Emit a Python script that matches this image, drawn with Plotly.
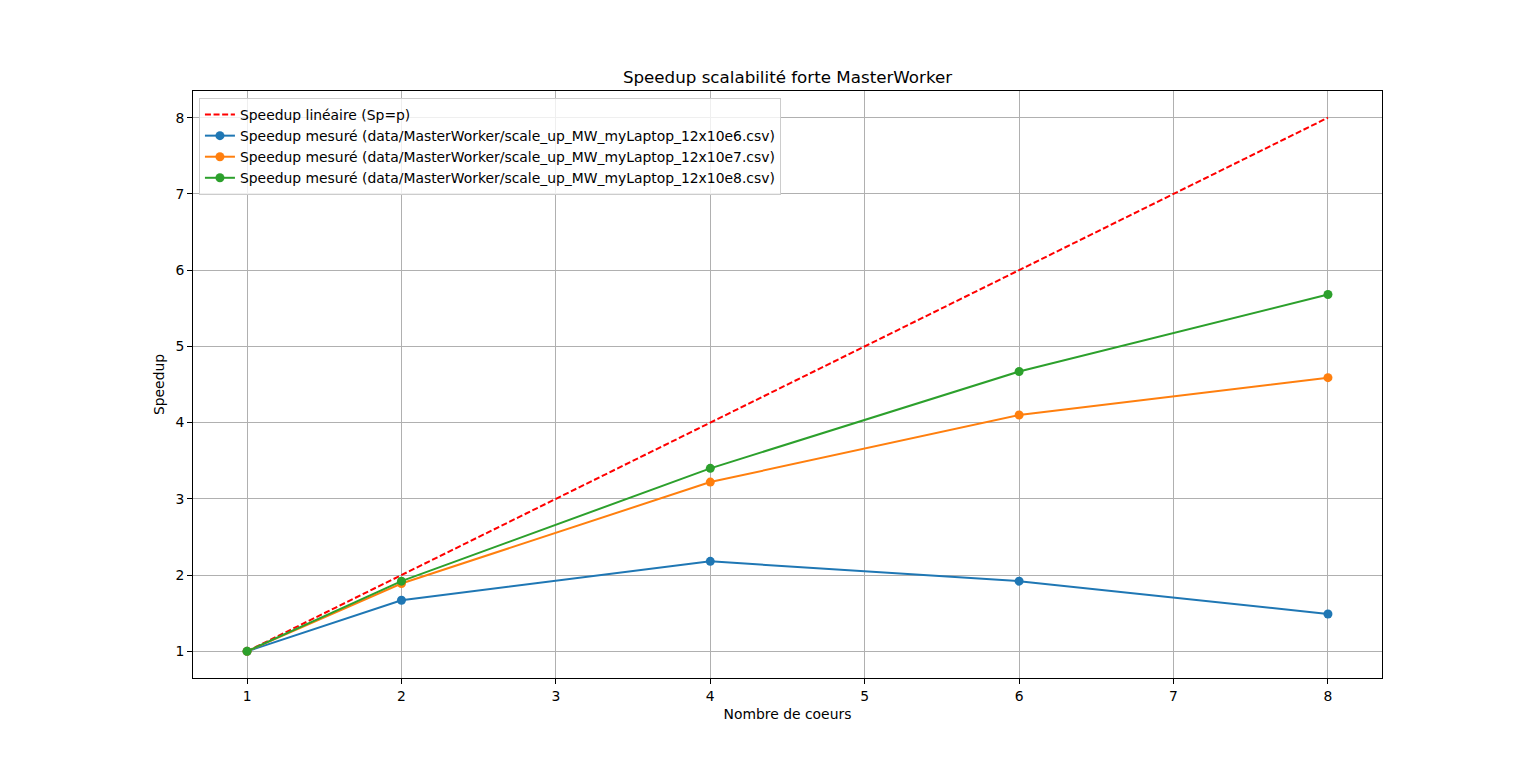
import plotly.graph_objects as go

# data
cores = [1, 2, 4, 6, 8]
lineaire = [1, 2, 4, 6, 8]
speedup_e6 = [1.0, 1.67, 2.18, 1.92, 1.49]
speedup_e7 = [1.0, 1.89, 3.22, 4.10, 4.59]
speedup_e8 = [1.0, 1.92, 3.40, 4.67, 5.68]

files = ['data/MasterWorker/scale_up_MW_myLaptop_12x10e6.csv',
         'data/MasterWorker/scale_up_MW_myLaptop_12x10e7.csv',
         'data/MasterWorker/scale_up_MW_myLaptop_12x10e8.csv']
colors = ['#1f77b4', '#ff7f0e', '#2ca02c']

fig = go.Figure()
fig.add_trace(go.Scatter(x=cores, y=lineaire, mode='lines', name='Speedup linéaire (Sp=p)',
                         line=dict(color='red', width=2, dash='6px,2.6px')))
for f, vals, c in zip(files, [speedup_e6, speedup_e7, speedup_e8], colors):
    fig.add_trace(go.Scatter(x=cores, y=vals, mode='lines+markers',
                             name='Speedup mesuré (' + f + ')',
                             line=dict(color=c, width=2),
                             marker=dict(color=c, size=9)))

axis_style = dict(showline=True, linecolor='black', linewidth=1, mirror=True,
                  ticks='outside', ticklen=5, tickcolor='black',
                  showgrid=True, gridcolor='#b0b0b0', gridwidth=1,
                  zeroline=False, tickfont=dict(size=13.9, color='black'))

fig.update_xaxes(range=[0.65, 8.35], dtick=1, tick0=1,
                 title=dict(text='Nombre de coeurs', font=dict(size=13.9, color='black'), standoff=6),
                 **axis_style)
fig.update_yaxes(range=[0.65, 8.35], dtick=1, tick0=1,
                 title=dict(text='Speedup', font=dict(size=13.9, color='black'), standoff=7),
                 **axis_style)

# the page body adds 8px on top and left, so the figure is 8px smaller
fig.update_layout(
    width=1528, height=754,
    margin=dict(l=185, r=154, t=83, b=84),
    paper_bgcolor='white', plot_bgcolor='white',
    font=dict(family='DejaVu Sans', color='black'),
    title=dict(text='Speedup scalabilité forte MasterWorker', x=0.5, xanchor='center',
               xref='paper', y=1 - 69 / 754, yanchor='middle', font=dict(size=16.7)),
    legend=dict(x=0.005, y=0.988, xanchor='left', yanchor='top',
                bgcolor='rgba(255,255,255,0.8)', bordercolor='#cccccc', borderwidth=1,
                font=dict(size=13.9), tracegroupgap=0, itemwidth=30),
)

fig.write_html("out.html")
